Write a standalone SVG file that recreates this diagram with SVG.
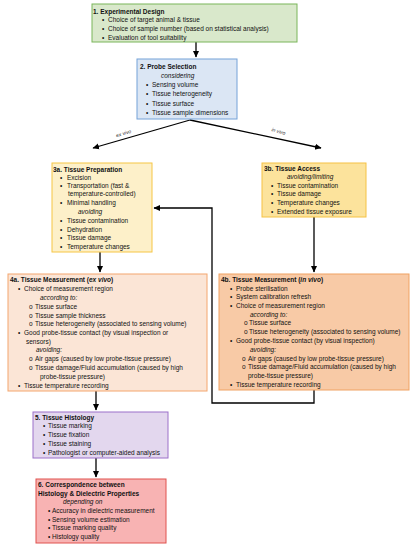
<svg xmlns="http://www.w3.org/2000/svg" width="413" height="550" viewBox="0 0 413 550">
<defs>
<marker id="ah" markerWidth="8" markerHeight="8" refX="6" refY="4" orient="auto" markerUnits="userSpaceOnUse">
<path d="M0,1 L6.5,4 L0,7 z" fill="#000"/>
</marker>
<style>
text{font-family:"Liberation Sans",Arial,sans-serif;font-size:6.5px;fill:#111}
.t{font-weight:bold}
.i{font-style:italic}
.c{stroke:#000;stroke-width:1.3;fill:none}
.lb{font-size:5px;font-style:italic;fill:#333}
</style>
</defs>
<rect width="413" height="550" fill="#fff"/>
<g id="connectors">
<path class="c" d="M196,42 V57" marker-end="url(#ah)"/>
<path class="c" d="M190,120 L93,148" marker-end="url(#ah)"/>
<path class="c" d="M190,120 L321,148" marker-end="url(#ah)"/>
<path class="c" d="M100,252 V272" marker-end="url(#ah)"/>
<path class="c" d="M314,217 V272" marker-end="url(#ah)"/>
<path class="c" d="M314,390 V403 H212 V208 H154" marker-end="url(#ah)"/>
<path class="c" d="M96,391 V410" marker-end="url(#ah)"/>
<path class="c" d="M96,458 V477" marker-end="url(#ah)"/>
<text class="lb" transform="translate(124,135) rotate(-16)" text-anchor="middle">ex vivo</text>
<text class="lb" transform="translate(278,133) rotate(16)" text-anchor="middle">in vivo</text>
</g>
<g id="n1">
<rect x="92" y="4" width="205" height="38" fill="#d9e8cb" stroke="#7ab65a" stroke-width="1"/>
<text class="t" x="93" y="14">1. Experimental Design</text>
<text x="102" y="22">•</text><text x="108" y="22">Choice of target animal &amp; tissue</text>
<text x="102" y="30.5">•</text><text x="108" y="30.5">Choice of sample number (based on statistical analysis)</text>
<text x="102" y="39.5">•</text><text x="108" y="39.5">Evaluation of tool suitability</text>
</g>
<g id="n2">
<rect x="137" y="59" width="100" height="60" fill="#dbe6f4" stroke="#74a2d8" stroke-width="1"/>
<text class="t" x="140" y="69">2. Probe Selection</text>
<text class="i" x="161" y="78">considering</text>
<text x="146" y="87">•</text><text x="152" y="87">Sensing volume</text>
<text x="146" y="96">•</text><text x="152" y="96">Tissue heterogeneity</text>
<text x="146" y="105.5">•</text><text x="152" y="105.5">Tissue surface</text>
<text x="146" y="115">•</text><text x="152" y="115">Tissue sample dimensions</text>
</g>
<g id="n3a">
<rect x="52" y="163" width="100" height="89" fill="#fdf0c9" stroke="#f6c644" stroke-width="1"/>
<text class="t" x="53" y="172">3a. Tissue Preparation</text>
<text x="60" y="179.5">•</text><text x="67" y="179.5">Excision</text>
<text x="60" y="187.5">•</text><text x="67" y="187.5">Transportation (fast &amp;</text>
<text x="68" y="196">temperature-controlled)</text>
<text x="60" y="205">•</text><text x="67" y="205">Minimal handling</text>
<text class="i" x="78" y="214">avoiding</text>
<text x="60" y="223">•</text><text x="67" y="223">Tissue contamination</text>
<text x="60" y="231.5">•</text><text x="67" y="231.5">Dehydration</text>
<text x="60" y="240">•</text><text x="67" y="240">Tissue damage</text>
<text x="60" y="249">•</text><text x="67" y="249">Temperature changes</text>
</g>
<g id="n3b">
<rect x="262" y="163" width="104" height="54" fill="#fce39c" stroke="#f5c244" stroke-width="1"/>
<text class="t" x="264" y="170.5">3b. Tissue Access</text>
<text class="i" x="287" y="179">avoiding/limiting</text>
<text x="271" y="187.5">•</text><text x="277" y="187.5">Tissue contamination</text>
<text x="271" y="196">•</text><text x="277" y="196">Tissue damage</text>
<text x="271" y="205">•</text><text x="277" y="205">Temperature changes</text>
<text x="271" y="214">•</text><text x="277" y="214">Extended tissue exposure</text>
</g>
<g id="n4a">
<rect x="8" y="274" width="199" height="117" fill="#fbe5d6" stroke="#f4a66e" stroke-width="1"/>
<text class="t" x="10" y="281.5">4a. Tissue Measurement (<tspan class="i">ex vivo</tspan>)</text>
<text x="18" y="290.5">•</text><text x="24" y="290.5">Choice of measurement region</text>
<text class="i" x="40" y="300">according to:</text>
<text x="29" y="308.5">o</text><text x="35" y="308.5">Tissue surface</text>
<text x="29" y="317.5">o</text><text x="35" y="317.5">Tissue sample thickness</text>
<text x="29" y="326">o</text><text x="35" y="326">Tissue heterogeneity (associated to sensing volume)</text>
<text x="18" y="334.5">•</text><text x="24" y="334.5">Good probe-tissue contact (by visual inspection or</text>
<text x="26" y="343.5">sensors)</text>
<text class="i" x="36" y="352">avoiding:</text>
<text x="29" y="361">o</text><text x="35" y="361">Air gaps (caused by low probe-tissue pressure)</text>
<text x="29" y="370">o</text><text x="35" y="370">Tissue damage/Fluid accumulation (caused by high</text>
<text x="40" y="379">probe-tissue pressure)</text>
<text x="18" y="387.5">•</text><text x="24" y="387.5">Tissue temperature recording</text>
</g>
<g id="n4b">
<rect x="219" y="274" width="190" height="116" fill="#f8caa6" stroke="#f0a262" stroke-width="1"/>
<text class="t" x="221" y="281.5">4b. Tissue Measurement (<tspan class="i">in vivo</tspan>)</text>
<text x="230" y="290.5">•</text><text x="236" y="290.5">Probe sterilisation</text>
<text x="230" y="299">•</text><text x="236" y="299">System calibration refresh</text>
<text x="230" y="307.5">•</text><text x="236" y="307.5">Choice of measurement region</text>
<text class="i" x="250" y="316.5">according to:</text>
<text x="244" y="325">o</text><text x="249" y="325">Tissue surface</text>
<text x="244" y="334">o</text><text x="249" y="334">Tissue heterogeneity (associated to sensing volume)</text>
<text x="230" y="343">•</text><text x="236" y="343">Good probe-tissue contact (by visual inspection)</text>
<text class="i" x="250" y="351.5">avoiding:</text>
<text x="242" y="360.5">o</text><text x="248" y="360.5">Air gaps (caused by low probe-tissue pressure)</text>
<text x="242" y="369">o</text><text x="248" y="369">Tissue damage/Fluid accumulation (caused by high</text>
<text x="248" y="378">probe-tissue pressure)</text>
<text x="230" y="386.5">•</text><text x="236" y="386.5">Tissue temperature recording</text>
</g>
<g id="n5">
<rect x="33" y="412" width="135" height="46" fill="#e3d7ee" stroke="#9c70c9" stroke-width="1"/>
<text class="t" x="35" y="419.5">5. Tissue Histology</text>
<text x="43" y="428">•</text><text x="48" y="428">Tissue marking</text>
<text x="43" y="436.5">•</text><text x="48" y="436.5">Tissue fixation</text>
<text x="43" y="445.5">•</text><text x="48" y="445.5">Tissue staining</text>
<text x="43" y="454.5">•</text><text x="48" y="454.5">Pathologist or computer-aided analysis</text>
</g>
<g id="n6">
<rect x="36" y="479" width="130" height="64" fill="#f8b3b3" stroke="#e0524f" stroke-width="1"/>
<text class="t" x="38" y="486.5">6. Correspondence between</text>
<text class="t" x="38" y="495.5">Histology &amp; Dielectric Properties</text>
<text class="i" x="63" y="503.5">depending on</text>
<text x="48" y="512.5">•</text><text x="52" y="512.5">Accuracy in dielectric measurement</text>
<text x="48" y="521.5">•</text><text x="52" y="521.5">Sensing volume estimation</text>
<text x="48" y="530">•</text><text x="52" y="530">Tissue marking quality</text>
<text x="48" y="539">•</text><text x="52" y="539">Histology quality</text>
</g>
</svg>
